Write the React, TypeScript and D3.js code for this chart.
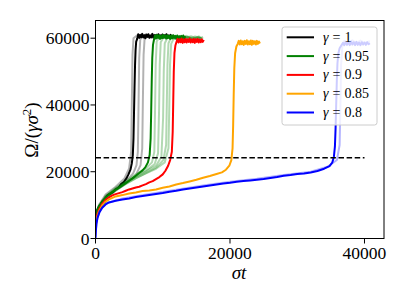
import * as d3 from "d3";

type Pt = [number, number];

const xTicks = [0, 20000, 40000];
const yTicks = [0, 20000, 40000, 60000];
const threshold = 24200;
const gammaLabels = ["1", "0.95", "0.9", "0.85", "0.8"];
const colors = ["black", "green", "red", "orange", "blue"];

// gamma = 1 (main run)
const gamma1: Pt[] = [
  [0, 5200], [150, 7600], [400, 9100], [700, 10000], [1000, 11100], [1400, 11800], [1800, 13000],
  [2200, 13400], [2600, 13900], [3000, 14700], [3400, 15200], [3800, 16300], [4200, 16900],
  [4600, 18000], [4900, 19200], [5200, 20600], [5400, 22500], [5550, 25000], [5650, 30000],
  [5720, 37000], [5800, 45000], [5880, 52000], [5960, 56500], [6050, 59000],
  [6200, 59800], [6350, 61200], [6500, 60100], [6650, 61000], [6800, 60300], [6950, 61300],
  [7100, 60200], [7250, 60900], [7400, 60000], [7550, 61100], [7700, 60400], [7850, 61200],
  [8000, 60100], [8150, 60800], [8300, 60300], [8450, 61300], [8600, 60200], [8750, 60900],
  [8900, 60000], [9050, 61000], [9200, 60400], [9350, 61200], [9500, 60100], [9650, 60800],
  [9800, 60300], [9950, 61100], [10100, 60200], [10250, 60900], [10400, 60400], [10550, 61200],
  [10700, 60100], [10850, 60800], [11000, 60300], [11150, 61000], [11300, 60200], [11450, 60700],
];
// gamma = 1 (other runs)
const gamma1Runs: Pt[][] = [
  [[0, 6000], [500, 9500], [1500, 12500], [3000, 14800], [4500, 17000], [5600, 19500], [6100, 22000],
   [6300, 26000], [6400, 40000], [6500, 54000], [6650, 59500], [7000, 60900], [7500, 60100],
   [8000, 61000], [8500, 60200], [9000, 60800], [9500, 60100], [10000, 60900], [10500, 60200], [11000, 60700]],
  [[0, 5500], [500, 9000], [1500, 12000], [3000, 14300], [4500, 16500], [6000, 19000], [6700, 22000],
   [6950, 27000], [7050, 42000], [7150, 55000], [7300, 59800], [7800, 60800], [8300, 60100],
   [8800, 61000], [9300, 60300], [9800, 60900], [10300, 60200], [10800, 60800], [11200, 60400]],
  [[0, 7000], [500, 10000], [1500, 13200], [3000, 15500], [4300, 18000], [5000, 21000], [5300, 26000],
   [5400, 40000], [5500, 55000], [5650, 60000], [6200, 60900], [6800, 60200], [7400, 61100],
   [8000, 60300], [8600, 60900], [9200, 60200], [9800, 60800], [10400, 60300], [11000, 60600]],
];

// gamma = 0.95
const gamma095: Pt[] = [
  [0, 6500], [200, 8300], [500, 9600], [1000, 11000], [1500, 12100], [2000, 13200], [2500, 13900],
  [3000, 14600], [3500, 15200], [4000, 15900], [4500, 16600], [5000, 17300], [5500, 18000],
  [6000, 18800], [6500, 19600], [7000, 20400], [7400, 21300], [7800, 22800], [8050, 25000],
  [8200, 30000], [8280, 38000], [8360, 47000], [8440, 54000], [8550, 58000], [8700, 59600],
  [8850, 60800], [9000, 59900], [9150, 61000], [9300, 60100], [9450, 60900], [9600, 59800],
  [9750, 60700], [9900, 60000], [10050, 61000], [10200, 60200], [10350, 60800], [10500, 59900],
  [10650, 60900], [10800, 60100], [10950, 60700], [11100, 59800], [11250, 60800], [11400, 60000],
  [11550, 60900], [11700, 60100], [11850, 60700], [12000, 59900], [12150, 60800], [12300, 60000],
  [12450, 60600], [12600, 59800], [12750, 60700], [12900, 60000], [13050, 60800], [13200, 59900],
  [13350, 60600],
];
const gamma095Runs: Pt[][] = [
  [[0, 7000], [500, 9800], [1500, 12800], [3000, 15200], [4500, 17200], [6000, 19200], [7500, 21000],
   [8400, 22800], [8750, 26000], [8850, 38000], [8950, 52000], [9100, 59000], [9600, 60700],
   [10500, 59900], [11500, 60800], [12500, 60000], [13500, 60700], [14500, 59900], [15500, 60600]],
  [[0, 6200], [500, 9300], [1500, 12300], [3000, 14800], [4500, 16700], [6000, 18600], [7500, 20300],
   [8800, 22300], [9300, 25500], [9450, 38000], [9550, 52000], [9700, 58800], [10200, 60600],
   [11200, 59800], [12200, 60700], [13200, 59900], [14200, 60600], [15200, 59800], [16000, 60400]],
  [[0, 6800], [500, 9500], [1500, 12500], [3000, 14900], [4500, 16900], [6000, 18500], [7500, 20100],
   [9000, 21800], [9800, 24500], [10050, 36000], [10150, 50000], [10300, 58500], [10800, 60500],
   [11800, 59700], [12800, 60600], [13800, 59800], [14800, 60500], [15800, 59900]],
  [[0, 6000], [500, 9000], [1500, 12000], [3000, 14400], [4500, 16300], [6000, 18000], [7500, 19600],
   [9000, 21200], [10100, 23500], [10500, 28000], [10600, 40000], [10700, 52000], [10850, 58500],
   [11300, 60400], [12300, 59600], [13300, 60500], [14300, 59700], [15300, 60400], [16000, 59800]],
  [[0, 6600], [500, 9400], [1500, 12200], [3000, 14500], [4500, 16400], [6000, 18100], [7500, 19500],
   [9000, 20900], [10300, 22800], [10850, 27000], [10980, 40000], [11080, 52000], [11250, 58300],
   [11700, 60200], [12700, 59500], [13700, 60400], [14700, 59600], [15700, 60300]],
];

// gamma = 0.9
const gamma09: Pt[] = [
  [0, 5000], [200, 6800], [500, 8600], [1000, 10400], [1500, 11600], [2000, 12300], [2500, 12900],
  [3000, 13300], [3500, 13600], [4000, 13900], [4500, 14300], [5000, 14700], [5500, 15000],
  [6000, 15300], [6500, 15500], [7000, 15900], [7500, 16300], [8000, 16800], [8500, 17200],
  [9000, 17800], [9500, 18400], [10000, 19200], [10400, 20300], [10800, 21800], [11100, 23500],
  [11350, 26000], [11480, 32000], [11560, 41000], [11640, 50000], [11740, 55500], [11880, 57800],
  [12050, 58900], [12200, 59800], [12350, 58700], [12500, 59700], [12650, 58800], [12800, 59900],
  [12950, 58600], [13100, 59600], [13250, 58800], [13400, 59800], [13550, 58700], [13700, 59700],
  [13850, 58900], [14000, 59900], [14150, 58700], [14300, 59600], [14450, 58800], [14600, 59800],
  [14750, 58600], [14900, 59700], [15050, 58900], [15200, 59800], [15350, 58700], [15500, 59600],
  [15650, 58800], [15800, 59700], [15950, 58900], [16100, 59500],
];

// gamma = 0.85
const gamma085: Pt[] = [
  [0, 3500], [200, 6000], [500, 8000], [1000, 9900], [1500, 11000], [2000, 11700], [3000, 12600],
  [4000, 13000], [5000, 13500], [6000, 13800], [7000, 14200], [8000, 14400], [9000, 14700],
  [10000, 15200], [11000, 15600], [12000, 16200], [13000, 16600], [14000, 17100], [15000, 17600],
  [16000, 18200], [17000, 18700], [18000, 19300], [18800, 19800], [19400, 20600], [19900, 21800],
  [20200, 23500], [20380, 27000], [20470, 34000], [20550, 43000], [20640, 51000], [20760, 55500],
  [20950, 57500], [21150, 58300], [21300, 59200], [21450, 58100], [21600, 59300], [21750, 58200],
  [21900, 59100], [22050, 58000], [22200, 59200], [22350, 58300], [22500, 59400], [22650, 58100],
  [22800, 59100], [22950, 58200], [23100, 59300], [23250, 58000], [23400, 59200], [23550, 58300],
  [23700, 59100], [23850, 58100], [24000, 59200], [24150, 58300], [24300, 59000], [24450, 58400],
];

// gamma = 0.8
const gamma08: Pt[] = [
  [0, 0], [60, 2500], [150, 4500], [300, 6200], [600, 7900], [1000, 9200], [1500, 10200],
  [2000, 10800], [3000, 11300], [4000, 11700], [5000, 12000], [6000, 12400], [7000, 12700],
  [8000, 13000], [9000, 13300], [10000, 13600], [11000, 14000], [12000, 14300], [13000, 14700],
  [14000, 15000], [15000, 15300], [16000, 15600], [17000, 15900], [18000, 16200], [19000, 16500],
  [20000, 16700], [21000, 17000], [22000, 17200], [23000, 17400], [24000, 17600], [25000, 17800],
  [26000, 18100], [27000, 18400], [28000, 18800], [29000, 19000], [30000, 19300], [31000, 19500],
  [32000, 19800], [33000, 20200], [34000, 20900], [34800, 21700], [35200, 22700], [35450, 24500],
  [35600, 27500], [35700, 33000], [35790, 40000], [35880, 47000], [35980, 52500], [36120, 55500],
  [36300, 57000], [36550, 57800], [36800, 58600], [37000, 57900], [37200, 58900], [37400, 58000],
  [37600, 58800], [37800, 57900], [38000, 59000], [38200, 58100], [38400, 58800], [38600, 57900],
  [38800, 58900], [39000, 58000], [39200, 58700], [39400, 57900], [39600, 58800], [39800, 58100],
  [40000, 58700], [40200, 58000], [40400, 58800], [40600, 58200], [40800, 58500],
];
const gamma08Runs: Pt[][] = [
  [[0, 500], [150, 5000], [600, 8300], [1500, 10500], [4000, 12000], [8000, 13300], [12000, 14600],
   [16000, 15900], [20000, 17000], [24000, 17900], [28000, 19000], [32000, 20000], [34500, 21500],
   [35900, 23500], [36300, 28000], [36420, 40000], [36520, 52000], [36700, 57500], [37000, 59200],
   [37600, 58400], [38200, 59400], [38800, 58500], [39400, 59300], [40000, 58600], [40800, 59100]],
];

const allRuns: Pt[][][] = [gamma1Runs, gamma095Runs, [], [], gamma08Runs];
const mainRuns: Pt[][] = [gamma1, gamma095, gamma09, gamma085, gamma08];

const left = 95.5, right = 384, top = 20.5, bottom = 238.5;

export default function App() {
  const x = d3.scaleLinear().domain([0, 42900]).range([left, right]);
  const y = d3.scaleLinear().domain([0, 65300]).range([bottom, top]);
  const line = d3.line<Pt>().x((d) => x(d[0])).y((d) => y(d[1]));

  const legendX = 282, legendY = 27, rowH = 18.8;

  return (
    <svg width={407} height={305} style={{ position: "absolute", left: 0, top: 0 }}>
      <style>{`.lbl { font-family: "Liberation Serif"; fill: black; }`}</style>
      <rect width={407} height={305} fill="white" />
      <defs>
        <clipPath id="plot">
          <rect x={left} y={top} width={right - left} height={bottom - top} />
        </clipPath>
      </defs>
      <g clipPath="url(#plot)" fill="none" strokeWidth={2} strokeLinejoin="round">
        {mainRuns.map((run, i) => (
          <g key={i}>
            {allRuns[i].map((r, j) => (
              <path key={j} d={line(r) ?? ""} stroke={colors[i]} strokeOpacity={0.3} />
            ))}
            <path d={line(run) ?? ""} stroke={colors[i]} />
          </g>
        ))}
        <line x1={x(0)} x2={x(40000)} y1={y(threshold)} y2={y(threshold)} stroke="black" strokeWidth={1.6} strokeDasharray="5.5,2.6" />
      </g>
      {/* axes frame */}
      <rect x={left} y={top} width={right - left} height={bottom - top} fill="none" stroke="black" strokeWidth={1} />
      {xTicks.map((t) => (
        <line key={t} x1={x(t)} x2={x(t)} y1={bottom} y2={bottom + 5} stroke="black" />
      ))}
      {xTicks.map((t) => (
        <text key={t} className="lbl" x={x(t)} y={259} textAnchor="middle" fontSize={17.5}>{t}</text>
      ))}
      {yTicks.map((t) => (
        <line key={t} x1={left - 5} x2={left} y1={y(t)} y2={y(t)} stroke="black" />
      ))}
      {yTicks.map((t) => (
        <text key={t} className="lbl" x={89.5} y={y(t) + 6} textAnchor="end" fontSize={17.5}>{t}</text>
      ))}
      <text className="lbl" x={239} y={279} textAnchor="middle" fontSize={19} fontStyle="italic">σt</text>
      <text className="lbl" transform="translate(37.5,130) rotate(-90)" textAnchor="middle" fontSize={19}>
        Ω/(<tspan fontStyle="italic">γσ</tspan><tspan fontSize={13} dy={-7}>2</tspan><tspan dy={7}>)</tspan>
      </text>
      {/* legend */}
      <rect x={legendX} y={legendY} width={95} height={98} rx={2.5} fill="white" fillOpacity={0.8} stroke="#cccccc" strokeWidth={1} />
      {gammaLabels.map((g, i) => (
        <line key={g} x1={286.7} x2={314} y1={37.3 + i * rowH} y2={37.3 + i * rowH} stroke={colors[i]} strokeWidth={2} />
      ))}
      {gammaLabels.map((g, i) => (
        <text key={g} className="lbl" x={323} y={37.3 + i * rowH + 4.5} fontSize={14}>
          <tspan fontStyle="italic">γ</tspan>
          <tspan dx={4}>=</tspan>
          <tspan dx={4}>{g}</tspan>
        </text>
      ))}
    </svg>
  );
}
